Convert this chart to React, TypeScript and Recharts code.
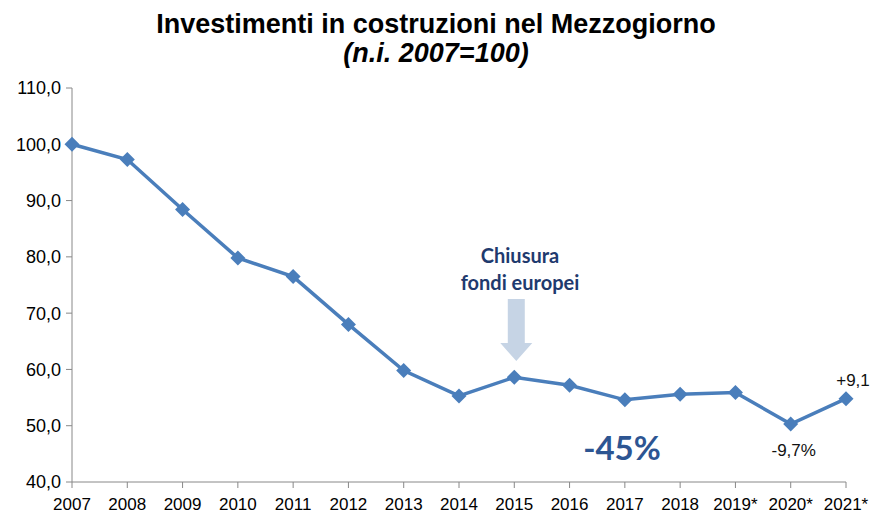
import React from 'react'
import { LineChart, Line, XAxis, YAxis, ReferenceDot, LabelList } from 'recharts'

const years = ['2007', '2008', '2009', '2010', '2011', '2012', '2013', '2014', '2015', '2016', '2017', '2018', '2019*', '2020*', '2021*']
const index = [100, 97.3, 88.4, 79.8, 76.5, 68.0, 59.8, 55.3, 58.6, 57.2, 54.6, 55.6, 55.9, 50.3, 54.8]
const yTicks = [40, 50, 60, 70, 80, 90, 100, 110]
const pointLabels: Record<string, string> = { '2020*': '-9,7%', '2021*': '+9,1' }

const data = years.map((year, i) => ({ year, value: index[i] }))

const BLUE = '#4a7ebb'
const FONT = '"Liberation Sans", Arial, sans-serif'
const NOTE_FONT = 'Lato, "Open Sans", sans-serif'

const Diamond = (props: any) => {
  const { cx, cy } = props
  if (cx == null || cy == null) return null
  const r = 7.5
  return <path d={`M${cx},${cy - r}L${cx + r},${cy}L${cx},${cy + r}L${cx - r},${cy}Z`} fill={BLUE} />
}

// arrow pointing down at the 2015 point, tip at (cx, cy)
const Arrow = (props: any) => {
  const { cx, cy } = props
  if (cx == null || cy == null) return null
  const x = cx + 2
  const d = `M${x - 8.5},${cy - 62} L${x + 8.5},${cy - 62} L${x + 8.5},${cy - 18} L${x + 16},${cy - 18} L${x},${cy} L${x - 16},${cy - 18} L${x - 8.5},${cy - 18} Z`
  return <path d={d} fill="#c6d4e5" />
}

const PointLabel = (props: any) => {
  const { x, y, index: i } = props
  const text = pointLabels[years[i]]
  if (!text) return null
  const below = years[i] === '2020*'
  return (
    <text x={x + (below ? 3 : 7)} y={below ? y + 32 : y - 13} textAnchor="middle" fontSize={17} fontFamily={FONT} fill="#111">
      {text}
    </text>
  )
}

export default function App() {
  return (
    <div style={{ position: 'absolute', left: 0, top: 0, width: 872, height: 515, background: '#fff', fontFamily: FONT }}>
      <div style={{ position: 'absolute', left: 0, width: 872, top: 9, textAlign: 'center', fontSize: 27, fontWeight: 'bold', color: '#000' }}>
        Investimenti in costruzioni nel Mezzogiorno
      </div>
      <div style={{ position: 'absolute', left: 0, width: 872, top: 38, textAlign: 'center', fontSize: 27, fontWeight: 'bold', fontStyle: 'italic', color: '#000' }}>
        (n.i. 2007=100)
      </div>
      <div style={{ position: 'absolute', left: 420, width: 200, top: 242, textAlign: 'center', fontSize: 20, fontWeight: 'bold', color: '#1f3a6e', fontFamily: NOTE_FONT, lineHeight: '27px' }}>
        Chiusura
        <br />
        fondi europei
      </div>
      <div style={{ position: 'absolute', left: 542, width: 160, top: 427, textAlign: 'center', fontSize: 33, fontWeight: 'bold', color: '#2d5592', fontFamily: NOTE_FONT }}>
        -45%
      </div>
      <LineChart width={872} height={515} data={data} margin={{ top: 88, right: 26, left: 4, bottom: 3 }}>
        <XAxis
          dataKey="year"
          scale="point"
          padding={{ left: 0, right: 0 }}
          height={30}
          interval={0}
          stroke="#888"
          tickSize={6}
          tickMargin={10}
          tick={{ fill: '#000', fontSize: 17, fontFamily: FONT }}
        />
        <YAxis
          domain={[40, 110]}
          ticks={yTicks}
          width={68}
          stroke="#888"
          tickSize={6}
          tickMargin={5}
          interval={0}
          tickFormatter={(v: number) => v.toFixed(1).replace('.', ',')}
          tick={{ fill: '#000', fontSize: 18, fontFamily: FONT }}
        />
        <ReferenceDot x="2015" y={61.5} r={0} shape={Arrow} ifOverflow="visible" />
        <Line
          type="linear"
          dataKey="value"
          stroke={BLUE}
          strokeWidth={3.5}
          dot={<Diamond />}
          activeDot={false}
          isAnimationActive={false}
        >
          <LabelList dataKey="value" content={<PointLabel />} />
        </Line>
      </LineChart>
    </div>
  )
}
